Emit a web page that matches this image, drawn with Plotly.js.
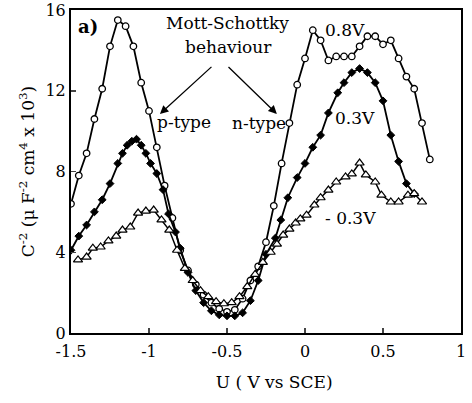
<!DOCTYPE html>
<html>
<head>
<meta charset="utf-8">
<script src="https://cdn.plot.ly/plotly-3.0.1.min.js"></script>
<style>html,body{margin:0;padding:0;background:#fff;}#chart{width:472px;height:403px;}</style>
</head>
<body>
<div id="chart"></div>
<script>
// 0.8 V series (open circles)
const u08 = [-1.5,-1.45,-1.4,-1.35,-1.3,-1.25,-1.2,-1.15,-1.1,-1.05,-1.0,-0.95,-0.9,-0.85,-0.8,-0.75,-0.7,-0.65,-0.6,-0.55,-0.5,-0.45,-0.4,-0.35,-0.3,-0.25,-0.2,-0.15,-0.1,-0.05,0,0.05,0.1,0.15,0.2,0.25,0.3,0.35,0.4,0.45,0.5,0.55,0.6,0.65,0.7,0.75,0.8];
const c08 = [6.4,7.8,8.9,10.6,12.1,14.2,15.5,15.2,14.2,12.4,11.0,9.2,7.3,5.7,4.1,3.1,2.4,1.9,1.5,1.2,1.05,1.15,1.7,2.6,3.3,4.5,6.3,8.4,10.4,12.3,13.6,15.0,14.5,13.5,13.7,13.7,13.7,14.2,14.7,14.7,14.3,14.5,13.6,12.7,12.1,10.4,8.6];
// 0.3 V series (filled diamonds)
const u03 = [-1.5,-1.45,-1.4,-1.35,-1.3,-1.25,-1.2,-1.17,-1.14,-1.11,-1.08,-1.05,-1.02,-0.99,-0.95,-0.91,-0.875,-0.83,-0.8,-0.75,-0.7,-0.65,-0.6,-0.55,-0.5,-0.45,-0.4,-0.35,-0.3,-0.25,-0.19,-0.155,-0.11,-0.05,0,0.05,0.1,0.15,0.21,0.25,0.3,0.35,0.4,0.45,0.5,0.55,0.6,0.65,0.7];
const c03 = [4.1,4.8,5.35,6.0,6.6,7.4,8.4,8.9,9.3,9.5,9.6,9.3,8.9,8.4,7.9,7.1,5.9,5.0,4.2,3.0,2.1,1.5,1.1,0.9,0.85,0.85,1.0,1.6,2.6,3.9,4.7,5.6,6.7,7.7,8.4,9.2,9.8,10.9,11.9,12.4,12.9,13.1,12.9,12.4,11.5,9.8,8.5,7.4,6.9];
// -0.3 V series (open triangles)
const um03 = [-1.455,-1.4,-1.36,-1.31,-1.26,-1.21,-1.17,-1.12,-1.07,-1.02,-0.97,-0.92,-0.87,-0.82,-0.77,-0.72,-0.67,-0.62,-0.57,-0.52,-0.47,-0.42,-0.37,-0.32,-0.27,-0.22,-0.18,-0.14,-0.1,-0.06,-0.03,0.01,0.06,0.1,0.15,0.2,0.26,0.3,0.35,0.39,0.45,0.49,0.55,0.6,0.66,0.7,0.75];
const cm03 = [3.62,3.76,4.2,4.26,4.56,4.8,5.1,5.25,5.94,6.04,6.09,5.6,5.1,4.1,3.2,2.6,2.1,1.8,1.55,1.45,1.5,1.8,2.3,2.9,3.5,4.0,4.4,4.85,5.15,5.45,5.65,5.84,6.34,6.7,7.08,7.48,7.73,7.88,8.42,7.83,7.48,6.83,6.49,6.49,6.83,6.9,6.49];

const xTicks = [-1.5,-1,-0.5,0,0.5,1];
const xTickText = ['-1.5','-1','-0.5','0','0.5','1'];
const yTicks = [0,4,8,12,16];
const yTickText = ['0','4','8','12','16'];

const serif = 'DejaVu Serif, Liberation Serif, serif';
const lineStyle = {color:'#000', width:1.8};

const traces = [
  {x:u08, y:c08, type:'scatter', mode:'lines+markers', name:'0.8V',
   line:lineStyle, marker:{symbol:'circle', size:6.5, color:'#fff', line:{color:'#000', width:1.3}}},
  {x:u03, y:c03, type:'scatter', mode:'lines+markers', name:'0.3V',
   line:lineStyle, marker:{symbol:'diamond', size:6, color:'#000', line:{color:'#000', width:1}}},
  {x:um03, y:cm03, type:'scatter', mode:'lines+markers', name:'-0.3V',
   line:{color:'#000', width:1.5}, marker:{symbol:'triangle-up', size:8, color:'#fff', line:{color:'#000', width:1.2}}}
];

const annFont = {family:serif, size:17, color:'#000'};
const layout = {
  width:472, height:403,
  margin:{l:71, r:11, t:10, b:70},
  paper_bgcolor:'#fff', plot_bgcolor:'#fff',
  showlegend:false,
  font:{family:serif, color:'#000'},
  xaxis:{range:[-1.5,1], tickvals:xTicks, ticktext:xTickText, ticks:'inside', ticklen:5, tickwidth:1.5,
    showline:true, mirror:true, linewidth:2, linecolor:'#000', showgrid:false, zeroline:false,
    tickfont:{family:serif, size:16, color:'#000'}, ticklabelstandoff:3,
    title:{text:'&nbsp;&nbsp;&nbsp;U ( V vs SCE)', font:{family:serif, size:17, color:'#000'}, standoff:16}},
  yaxis:{range:[0,16], tickvals:yTicks, ticktext:yTickText, ticks:'inside', ticklen:5, tickwidth:1.5,
    showline:true, mirror:true, linewidth:2, linecolor:'#000', showgrid:false, zeroline:false,
    tickfont:{family:serif, size:16, color:'#000'},
    title:{text:'C<sup>-2</sup> (μ F<sup>-2</sup> cm<sup>4</sup> x 10<sup>3</sup>)', font:{family:serif, size:17, color:'#000'}, standoff:6}},
  annotations:[
    {x:-1.394, y:15.16, xref:'x', yref:'y', text:'<b>a)</b>', showarrow:false, font:{family:serif, size:18, color:'#000'}},
    {x:-0.497, y:15.35, xref:'x', yref:'y', text:'Mott-Schottky', showarrow:false, font:annFont},
    {x:-0.49, y:14.17, xref:'x', yref:'y', text:'behaviour', showarrow:false, font:annFont},
    {x:-0.93, y:10.85, xref:'x', yref:'y', ax:-0.59, ay:13.25, axref:'x', ayref:'y', text:'', showarrow:true, arrowhead:2, arrowsize:1.3, arrowwidth:1.3, arrowcolor:'#000'},
    {x:-0.18, y:10.85, xref:'x', yref:'y', ax:-0.50, ay:13.25, axref:'x', ayref:'y', text:'', showarrow:true, arrowhead:2, arrowsize:1.3, arrowwidth:1.3, arrowcolor:'#000'},
    {x:-0.774, y:10.45, xref:'x', yref:'y', text:'p-type', showarrow:false, font:annFont},
    {x:-0.297, y:10.4, xref:'x', yref:'y', text:'n-type', showarrow:false, font:annFont},
    {x:0.258, y:15.0, xref:'x', yref:'y', text:'0.8V', showarrow:false, font:annFont},
    {x:0.323, y:10.65, xref:'x', yref:'y', text:'0.3V', showarrow:false, font:annFont},
    {x:0.29, y:5.7, xref:'x', yref:'y', text:'- 0.3V', showarrow:false, font:annFont}
  ]
};

Plotly.newPlot('chart', traces, layout, {displayModeBar:false, staticPlot:true});
</script>
</body>
</html>
